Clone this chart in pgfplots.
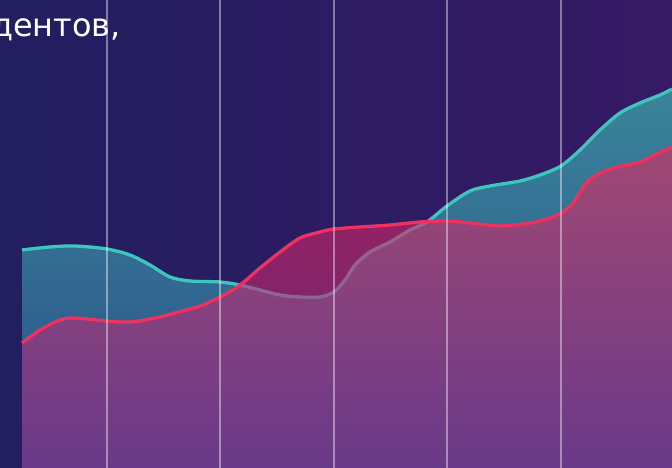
\documentclass[border=0pt]{standalone}
\usepackage{pgfplots}
\pgfplotsset{compat=1.18}
\usepackage{fontspec}
\setmainfont{DejaVu Sans}

\definecolor{bgleft}{HTML}{221E60}
\definecolor{bgright}{HTML}{361A64}
\definecolor{tealtop}{HTML}{3A8499}
\definecolor{tealmid}{HTML}{327596}
\definecolor{tealbot}{HTML}{2A4F8A}
\definecolor{redtop}{HTML}{E8265C}
\definecolor{redmid}{HTML}{D02A6C}
\definecolor{redbot}{HTML}{942B89}
\definecolor{tealline}{HTML}{3CC6BE}
\definecolor{redline}{HTML}{F0305E}

% teal series
\pgfplotstableread{
x y
22 218
50 221
75 222
107 219
130 213
150 203
170 191
190 187
220 186
240 183
260 178
280 173
300 171
320 171
334 176
345 188
355 203
370 216
390 226
410 238
427 246
447 262
470 277
490 282
520 287
540 293
561 302
580 318
600 338
620 355
640 365
660 373
672 379
}\tealdata

% red series
\pgfplotstableread{
x y
22 125
40 138
60 148
75 150
107 147
130 146
155 150
175 155
200 162
220 171
240 183
260 200
280 216
300 230
320 236
334 239
360 241
390 243
420 246
447 247
470 245
500 242
530 245
550 250
561 255
573 265
583 281
593 291
613 300
640 306
660 316
672 321
}\reddata

\begin{document}
\begin{tikzpicture}
\begin{axis}[
  width=672bp, height=468bp,
  scale only axis,
  xmin=0, xmax=672, ymin=0, ymax=468,
  axis line style={draw=none},
  tick style={draw=none},
  xtick={107,220,334,447,561},
  ytick=\empty,
  xticklabels={},
  xmajorgrids,
  grid style={white, opacity=0.42, line width=1.2bp},
  axis on top,
  axis background/.style={left color=bgleft, right color=bgright},
  clip=true,
]
\addplot[draw=none, smooth, tension=0.5, top color=tealtop, middle color=tealmid, bottom color=tealbot]
  table {\tealdata} \closedcycle;
\addplot[tealline, line width=3.3bp, smooth, tension=0.5] table {\tealdata};
\addplot[draw=none, smooth, tension=0.5, fill opacity=0.6, top color=redtop, middle color=redmid, bottom color=redbot]
  table {\reddata} \closedcycle;
\addplot[redline, line width=3.3bp, smooth, tension=0.5] table {\reddata};
\node[anchor=base east, text=white, font=\fontsize{32}{38}\selectfont, inner sep=0pt]
  at (axis cs:121,431) {дентов,};
\end{axis}
\pgfresetboundingbox
\useasboundingbox (current axis.south west) rectangle (current axis.north east);
\end{tikzpicture}
\end{document}
